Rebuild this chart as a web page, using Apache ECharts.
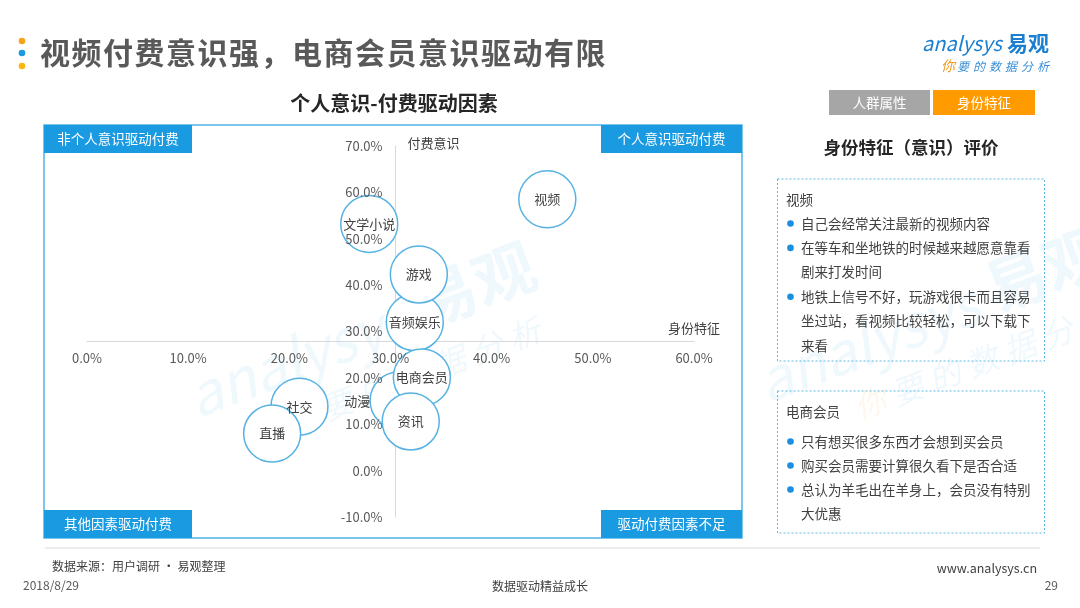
<!DOCTYPE html>
<html>
<head>
<meta charset="utf-8">
<script src="https://cdn.jsdelivr.net/npm/echarts@6/dist/echarts.min.js"></script>
<style>
html, body { margin: 0; padding: 0; background: #fff; }
#main { width: 1080px; height: 608px; }
</style>
</head>
<body>
<div id="main"></div>
<script>
// 气泡数据：身份特征(x) / 付费意识(y)
var names = ['视频', '文学小说', '音频娱乐', '游戏', '动漫', '电商会员', '资讯', '社交', '直播'];
var identity = [45.5, 27.9, 32.4, 32.8, 30.8, 33.1, 32.0, 21.0, 18.3];
var awareness = [58.5, 53.2, 32.0, 42.3, 15.1, 20.1, 10.6, 13.8, 8.0];

// 坐标轴范围
var xMin = 0, xMax = 60, xStep = 10;
var yMin = -10, yMax = 70, yStep = 10;
var crossX = 30.5, crossY = 28;   // 两轴交叉位置

// 右侧说明文字
var videoLines = [
    [1, '自己会经常关注最新的视频内容'],
    [1, '在等车和坐地铁的时候越来越愿意靠看'],
    [0, '剧来打发时间'],
    [1, '地铁上信号不好，玩游戏很卡而且容易'],
    [0, '坐过站，看视频比较轻松，可以下载下'],
    [0, '来看']
];
var memberLines = [
    [1, '只有想买很多东西才会想到买会员'],
    [1, '购买会员需要计算很久看下是否合适'],
    [1, '总认为羊毛出在羊身上，会员没有特别'],
    [0, '大优惠']
];

var FONT = '"Noto Sans CJK SC", "Noto Sans", sans-serif';
var gridLeft = 87, gridRight = 386, gridTop = 146, gridBottom = 91;
var gridW = 1080 - gridLeft - gridRight;
var gridH = 608 - gridTop - gridBottom;
var xAxisOffset = -(crossY - yMin) / (yMax - yMin) * gridH;
var yAxisOffset = -(crossX - xMin) / (xMax - xMin) * gridW;

var bubbleData = [];
for (var i = 0; i < names.length; i++) {
    var item = { name: names[i], value: [identity[i], awareness[i]] };
    if (names[i] == '动漫') {
        item.label = { position: 'left', distance: -1 };
    }
    bubbleData.push(item);
}

function pct(v) {
    return v.toFixed(1) + '%';
}

function txt(x, y, text, size, color, opt) {
    opt = opt || {};
    return {
        type: 'text',
        z: opt.z == null ? 10 : opt.z,
        style: {
            x: x, y: y, text: text,
            fill: color,
            fontSize: size,
            fontFamily: FONT,
            fontWeight: opt.bold ? 'bold' : 'normal',
            fontStyle: opt.italic ? 'italic' : 'normal',
            align: opt.align || 'left',
            verticalAlign: 'middle'
        }
    };
}

// 水印
function watermark(px, py, scale) {
    var c = 'rgba(26,154,224,0.07)';
    var kids = [
        txt(-150, 0, 'analysys', 58, c, { italic: true, z: 0 }),
        txt(95, -6, '易观', 62, c, { bold: true, z: 0 })
    ];
    var sl = '你要的数据分析';
    for (var n = 0; n < sl.length; n++) {
        kids.push(txt(-70 + n * 40, 58, sl[n], 32, n == 0 ? 'rgba(242,155,29,0.08)' : c, { italic: true, z: 0 }));
    }
    return { type: 'group', x: px, y: py, rotation: 0.36, scaleX: scale, scaleY: scale, z: 0, children: kids };
}

var graphics = [];
graphics.push(watermark(330, 345, 1));
graphics.push(watermark(900, 330, 1));

// 标题前的三个点
graphics.push({ type: 'circle', shape: { cx: 22, cy: 41, r: 3.3 }, style: { fill: '#f7a21b' } });
graphics.push({ type: 'circle', shape: { cx: 22, cy: 53, r: 3.3 }, style: { fill: '#1a9ae0' } });
graphics.push({ type: 'circle', shape: { cx: 22, cy: 66, r: 3.3 }, style: { fill: '#fbb616' } });
var mainTitle = '视频付费意识强，电商会员意识驱动有限';
for (var t = 0; t < mainTitle.length; t++) {
    graphics.push(txt(40 + t * 31.5, 53, mainTitle[t], 30, '#595959', { bold: true }));
}

// logo
graphics.push(txt(922, 43, 'analysys', 20, '#1a7fd0', { italic: true }));
graphics.push(txt(1007, 43, '易观', 21, '#1a7fd0', { bold: true }));
var slogan = '你要的数据分析';
for (var s = 0; s < slogan.length; s++) {
    graphics.push(txt(941 + s * 16, 66, slogan[s], s == 0 ? 14 : 12, s == 0 ? '#f29b1d' : '#3a8fd6', { italic: true }));
}

// 图表标题 + 象限框
graphics.push(txt(394, 103, '个人意识-付费驱动因素', 20, '#262626', { bold: true, align: 'center' }));
graphics.push({
    type: 'rect', z: 9,
    shape: { x: 44, y: 125, width: 698, height: 413 },
    style: { fill: null, stroke: '#4fb4e8', lineWidth: 1.5 }
});
var corners = [
    [44, 125, 148, '非个人意识驱动付费'],
    [601, 125, 141, '个人意识驱动付费'],
    [44, 510, 148, '其他因素驱动付费'],
    [601, 510, 141, '驱动付费因素不足']
];
corners.forEach(function (c) {
    graphics.push({ type: 'rect', z: 9, shape: { x: c[0], y: c[1], width: c[2], height: 28 }, style: { fill: '#1a9ae0' } });
    graphics.push(txt(c[0] + c[2] / 2, c[1] + 14, c[3], 13.5, '#ffffff', { align: 'center' }));
});

// 右侧面板
graphics.push({ type: 'rect', z: 9, shape: { x: 829, y: 90, width: 101, height: 25 }, style: { fill: '#a6a6a6' } });
graphics.push(txt(879.5, 103, '人群属性', 13.5, '#ffffff', { align: 'center' }));
graphics.push({ type: 'rect', z: 9, shape: { x: 933, y: 90, width: 102, height: 25 }, style: { fill: '#ff9a00' } });
graphics.push(txt(984, 103, '身份特征', 13.5, '#ffffff', { align: 'center' }));
graphics.push(txt(911, 147, '身份特征（意识）评价', 17.5, '#262626', { bold: true, align: 'center' }));

function panel(top, height, heading, lines, firstY, step) {
    graphics.push({
        type: 'rect', z: 9,
        shape: { x: 777.5, y: top, width: 267, height: height },
        style: { fill: null, stroke: '#5bb8e6', lineWidth: 1, lineDash: [2, 2] }
    });
    graphics.push(txt(786, top + 21, heading, 13.5, '#404040'));
    for (var k = 0; k < lines.length; k++) {
        var ly = firstY + k * step;
        if (lines[k][0]) {
            graphics.push({ type: 'circle', z: 9, shape: { cx: 790.5, cy: ly, r: 3.3 }, style: { fill: '#1a8fe0' } });
        }
        graphics.push(txt(801, ly, lines[k][1], 13.5, '#404040'));
    }
}
panel(179, 182, '视频', videoLines, 223.5, 24.4);
panel(391, 142, '电商会员', memberLines, 441.5, 24);

// 页脚
graphics.push({ type: 'line', z: 9, shape: { x1: 45, y1: 548, x2: 1040, y2: 548 }, style: { stroke: '#d9d9d9', lineWidth: 1 } });
graphics.push(txt(52, 566, '数据来源：用户调研 · 易观整理', 12, '#404040'));
graphics.push(txt(23, 585, '2018/8/29', 12, '#595959'));
graphics.push(txt(540, 586, '数据驱动精益成长', 12, '#404040', { align: 'center' }));
graphics.push(txt(1037, 568, 'www.analysys.cn', 12.5, '#404040', { align: 'right' }));
graphics.push(txt(1058, 585, '29', 12, '#595959', { align: 'right' }));

var myChart = echarts.init(document.getElementById('main'));

var axisLabelStyle = { color: '#595959', fontSize: 13, fontFamily: FONT };

var option = {
    animation: false,
    backgroundColor: '#ffffff',
    grid: { left: gridLeft, right: gridRight, top: gridTop, bottom: gridBottom },
    xAxis: [
        {   // 轴线（在气泡下面）
            type: 'value', min: xMin, max: xMax, interval: xStep,
            position: 'bottom', offset: xAxisOffset, z: 0,
            axisLine: { show: true, onZero: false, lineStyle: { color: '#d9d9d9', width: 1 } },
            axisTick: { show: false }, axisLabel: { show: false }, splitLine: { show: false }
        },
        {   // 刻度文字（在气泡上面）
            type: 'value', min: xMin, max: xMax, interval: xStep,
            position: 'bottom', offset: xAxisOffset, z: 5,
            name: '身份特征', nameLocation: 'end', nameGap: 0,
            nameTextStyle: { color: '#404040', fontSize: 13, fontFamily: FONT, align: 'center', verticalAlign: 'bottom', padding: [0, 0, 6, 0] },
            axisLine: { show: false, onZero: false },
            axisTick: { show: false }, splitLine: { show: false },
            axisLabel: Object.assign({ margin: 11, formatter: pct }, axisLabelStyle)
        }
    ],
    yAxis: [
        {
            type: 'value', min: yMin, max: yMax, interval: yStep,
            position: 'left', offset: yAxisOffset, z: 0,
            axisLine: { show: true, onZero: false, lineStyle: { color: '#d9d9d9', width: 1 } },
            axisTick: { show: false }, axisLabel: { show: false }, splitLine: { show: false }
        },
        {
            type: 'value', min: yMin, max: yMax, interval: yStep,
            position: 'left', offset: yAxisOffset, z: 5,
            name: '付费意识', nameLocation: 'end', nameGap: 3,
            nameTextStyle: { color: '#404040', fontSize: 13, fontFamily: FONT, align: 'left', verticalAlign: 'middle', padding: [0, 0, 0, 12] },
            axisLine: { show: false, onZero: false },
            axisTick: { show: false }, splitLine: { show: false },
            axisLabel: Object.assign({ margin: 13, formatter: pct }, axisLabelStyle)
        }
    ],
    series: [
        {
            name: '付费驱动',
            type: 'scatter',
            xAxisIndex: 0,
            yAxisIndex: 0,
            symbol: 'circle',
            symbolSize: 57,
            z: 2,
            data: bubbleData,
            itemStyle: { color: '#ffffff', borderColor: '#56b2e3', borderWidth: 1.5, opacity: 1 },
            label: {
                show: true,
                position: 'inside',
                formatter: '{b}',
                color: '#404040',
                fontSize: 13,
                fontFamily: FONT
            },
            emphasis: { disabled: true }
        }
    ],
    graphic: { elements: graphics }
};

myChart.setOption(option);
</script>
</body>
</html>
